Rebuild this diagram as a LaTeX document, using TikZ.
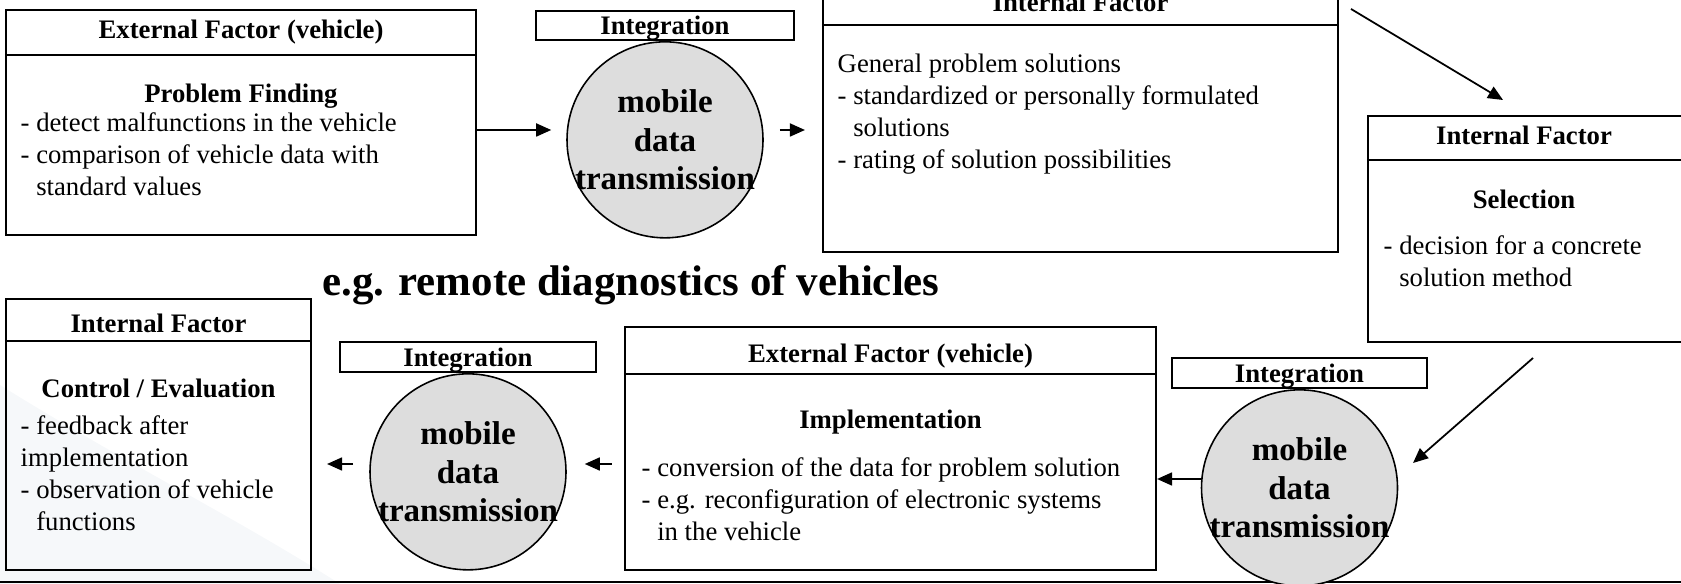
\documentclass[tikz,border=0pt]{standalone}
\usepackage{fontspec}
\setmainfont{Liberation Serif}
\usetikzlibrary{positioning,arrows.meta}
\definecolor{circgray}{RGB}{221,221,221}
\definecolor{swoosh}{RGB}{246,248,250}
\tikzset{
  factorbox/.style={draw, line width=0.6pt, inner sep=0pt},
  intbox/.style={draw, line width=0.6pt, inner sep=0pt, text depth=0pt, font=\fontsize{7.6}{9.1}\selectfont\bfseries},
  datacirc/.style={circle, draw, line width=0.45pt, fill=circgray, minimum size=1.96cm, inner sep=0pt},
  circtext/.style={align=center, inner sep=0pt, font=\fontsize{9.4}{11}\selectfont\bfseries},
  headtext/.style={inner sep=0pt, font=\fontsize{7.6}{9.1}\selectfont\bfseries},
  bodytext/.style={align=left, anchor=north west, inner sep=0pt, font=\fontsize{7.6}{9.1}\selectfont},
  flow/.style={-{Triangle[length=1.5mm,width=1.3mm]}, line width=0.5pt}
}
\begin{document}
\begin{tikzpicture}[y=-1cm]
  \useasboundingbox (0,0) rectangle (16.81,5.84);
  % background
  \fill[swoosh] (0,3.85) .. controls (1.2,4.6) and (2.4,5.2) .. (3.4,5.84) -- (0,5.84) -- cycle;
  \draw[line width=0.5pt] (0,5.82) -- (16.81,5.82);
  % the factor boxes
  \node[factorbox, minimum width=4.70cm, minimum height=2.25cm] (find) at (2.41,1.225) {};
  \node[factorbox, minimum width=5.15cm, minimum height=2.71cm] (gensol) at (10.805,1.165) {};
  \node[factorbox, minimum width=3.26cm, minimum height=2.26cm] (select) at (15.31,2.29) {};
  \node[factorbox, minimum width=5.31cm, minimum height=2.43cm] (impl) at (8.905,4.485) {};
  \node[factorbox, minimum width=3.05cm, minimum height=2.71cm] (control) at (1.585,4.345) {};
  % headers
  \draw[line width=0.6pt] ([yshift=-0.46cm]find.north west) -- ([yshift=-0.46cm]find.north east);
  \draw[line width=0.6pt] ([yshift=-0.45cm]gensol.north west) -- ([yshift=-0.45cm]gensol.north east);
  \draw[line width=0.6pt] ([yshift=-0.45cm]select.north west) -- ([yshift=-0.45cm]select.north east);
  \draw[line width=0.6pt] ([yshift=-0.48cm]impl.north west) -- ([yshift=-0.48cm]impl.north east);
  \draw[line width=0.6pt] ([yshift=-0.43cm]control.north west) -- ([yshift=-0.43cm]control.north east);
  \node[headtext] at ([yshift=-0.23cm]find.north) {External Factor (vehicle)};
  \node[headtext] at ([yshift=-0.225cm]gensol.north) {Internal Factor};
  \node[headtext] at ([xshift=-0.07cm,yshift=-0.205cm]select.north) {Internal Factor};
  \node[headtext] at ([yshift=-0.305cm]impl.north) {External Factor (vehicle)};
  \node[headtext] at ([yshift=-0.255cm]control.north) {Internal Factor};
  % box contents
  \node[headtext] at (find.center |- 0,0.96) {Problem Finding};
  \node[bodytext] at (0.20,1.12) {- detect malfunctions in the vehicle\\- comparison of vehicle data with\\\hphantom{-}~standard values};
  \node[bodytext] at (8.37,0.53) {General problem solutions\\- standardized or personally formulated\\\hphantom{-}~solutions\\- rating of solution possibilities};
  \node[headtext] at (15.24,1.99) {Selection};
  \node[bodytext] at (13.83,2.35) {- decision for a concrete\\\hphantom{-}~solution method};
  \node[headtext] at (impl.center |- 0,4.22) {Implementation};
  \node[bodytext] at (6.41,4.57) {- conversion of the data for problem solution\\- e.g. reconfiguration of electronic systems\\\hphantom{-}~in the vehicle};
  \node[headtext] at (control.center |- 0,3.88) {Control / Evaluation};
  \node[bodytext] at (0.20,4.15) {- feedback after\\implementation\\- observation of vehicle\\\hphantom{-}~functions};
  % integration
  \node[intbox, minimum width=2.58cm, minimum height=0.29cm] (int1) at (6.65,0.255) {Integration};
  \node[intbox, minimum width=2.56cm, minimum height=0.30cm] (int2) at (4.68,3.57) {Integration};
  \node[intbox, minimum width=2.55cm, minimum height=0.30cm] (int3) at (12.995,3.73) {Integration};
  \node[datacirc, below=0pt of int1] (circ1) {};
  \node[datacirc, below=0pt of int2] (circ2) {};
  \node[datacirc, below=0pt of int3] (circ3) {};
  \foreach \c in {circ1,circ2,circ3}
    \node[circtext] at (\c) {mobile\\data\\transmission};
  % title
  \node[inner sep=0pt, font=\fontsize{12.2}{14}\selectfont\bfseries] (title) at (6.31,2.85) {e.g. remote diagnostics of vehicles};
  % connections
  \coordinate (from gensol) at (13.51,0.09);
  \coordinate (to select) at (15.03,1.00);
  \coordinate (from select) at (15.33,3.58);
  \coordinate (to circ3) at (14.13,4.63);
  \draw[flow, shorten >=0.15cm] (find.east |- 0,1.30) -- (circ1.west |- 0,1.30);
  \draw[flow, shorten <=0.16cm, shorten >=0.17cm] (circ1.east |- 0,1.30) -- (gensol.west |- 0,1.30);
  \draw[flow] (from gensol) -- (to select);
  \draw[flow] (from select) -- (to circ3);
  \draw[flow] (circ3.west |- 0,4.79) -- (impl.east |- 0,4.79);
  \draw[flow, shorten <=0.12cm, shorten >=0.18cm] (impl.west |- 0,4.64) -- (circ2.east |- 0,4.64);
  \draw[flow, shorten <=0.16cm, shorten >=0.15cm] (circ2.west |- 0,4.64) -- (control.east |- 0,4.64);
\end{tikzpicture}
\end{document}
